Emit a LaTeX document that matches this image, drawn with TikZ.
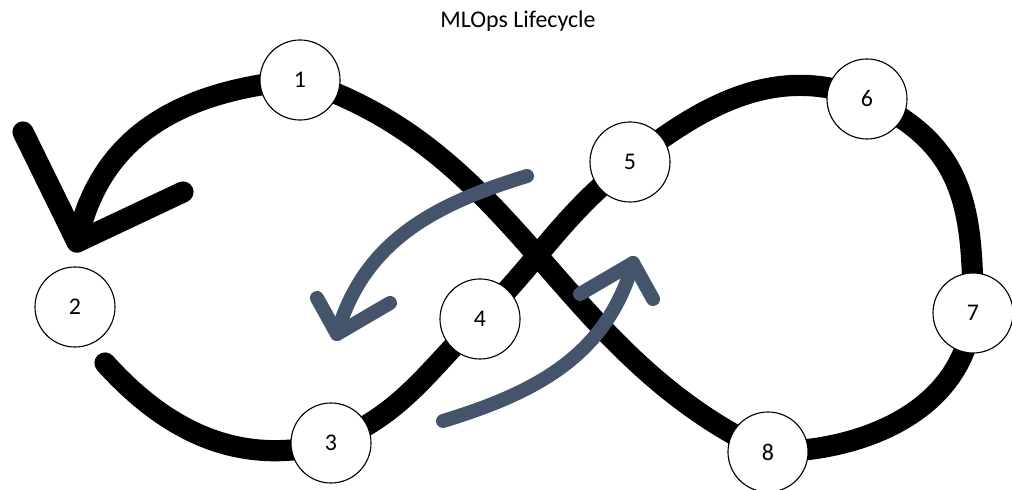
\documentclass[tikz,border=0pt]{standalone}
\usepackage{fontspec}
\setmainfont{Carlito}
\definecolor{slate}{HTML}{44546A}
\begin{document}
\begin{tikzpicture}[x=0.025cm,y=-0.025cm,
  ring/.style={line width=0.53cm,black,line cap=round,line join=round},
  bluearrow/.style={line width=0.35cm,slate,line cap=round,line join=round},
  stage/.style={circle,draw=black,line width=0.8pt,fill=white,minimum size=2cm,inner sep=0pt,font=\fontsize{17}{20}\selectfont}]
\useasboundingbox (0,0) rectangle (1012,490);
\node[anchor=base,font=\fontsize{17}{20}\selectfont] (title) at (518,28) {MLOps Lifecycle};
% coordinates
\coordinate (s) at (105,363);
\coordinate (tip) at (77,242);
\coordinate (armA) at (23,132);
\coordinate (armB) at (183,192);
\coordinate (bs1) at (527,176);
\coordinate (bt1) at (337,334);
\coordinate (ba1) at (317,298);
\coordinate (bb1) at (390,303);
\coordinate (bs2) at (443,421);
\coordinate (bt2) at (633,263);
\coordinate (ba2) at (653,299);
\coordinate (bb2) at (580,294);
% node positions (drawn later on top)
\coordinate (p1) at (300,80);
\coordinate (p2) at (75,307);
\coordinate (p3) at (331,443);
\coordinate (p4) at (480,319);
\coordinate (p5) at (630,162);
\coordinate (p6) at (867,99);
\coordinate (p7) at (973,313);
\coordinate (p8) at (768,452);
% black figure eight
\draw[ring] (s) to[out=-48,in=195] (p3) to[out=22,in=225] (p4)
  to[out=45,in=218] (p5) to[out=38,in=158] (p6) to[out=-25,in=90,looseness=1.15] (p7)
  to[out=-95,in=0] (p8) to[out=155,in=-18] (p1) to[out=185,in=78,looseness=1.05] (tip);
\draw[ring] (armA) -- (tip) -- (armB);
% blue arrows
\draw[bluearrow] (bs1) to[out=197,in=74] (bt1);
\draw[bluearrow] (ba1) -- (bt1) -- (bb1);
\draw[bluearrow] (bs2) to[out=17,in=254] (bt2);
\draw[bluearrow] (ba2) -- (bt2) -- (bb2);
% stages
\node[stage] (n1) at (p1) {1};
\node[stage] (n2) at (p2) {2};
\node[stage] (n3) at (p3) {3};
\node[stage] (n4) at (p4) {4};
\node[stage] (n5) at (p5) {5};
\node[stage] (n6) at (p6) {6};
\node[stage] (n7) at (p7) {7};
\node[stage] (n8) at (p8) {8};
\end{tikzpicture}
\end{document}
